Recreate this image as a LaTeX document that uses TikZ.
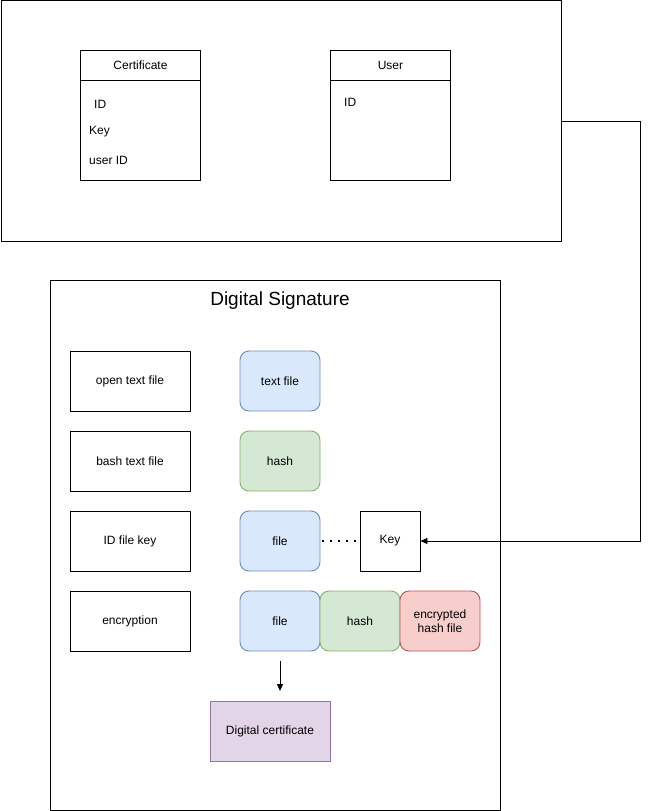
\documentclass[tikz,border=0pt]{standalone}
\usepackage{fontspec}
\setmainfont{Liberation Sans}
\usetikzlibrary{arrows.meta}
\definecolor{bluef}{HTML}{DAE8FC}\definecolor{blued}{HTML}{6C8EBF}
\definecolor{greenf}{HTML}{D5E8D4}\definecolor{greend}{HTML}{82B366}
\definecolor{redf}{HTML}{F8CECC}\definecolor{redd}{HTML}{B85450}
\definecolor{purf}{HTML}{E1D5E7}\definecolor{purd}{HTML}{9673A6}
\begin{document}
\begin{tikzpicture}[x=1pt,y=-1pt,
  every node/.style={font=\fontsize{12}{14}\selectfont, inner sep=0pt},
  plainbox/.style={draw=black, line width=0.9pt, minimum width=120pt, minimum height=60pt},
  rbox/.style={rounded corners=9pt, line width=0.9pt, minimum width=80pt, minimum height=60pt, align=center},
  bluebox/.style={rbox, draw=blued, fill=bluef},
  greenbox/.style={rbox, draw=greend, fill=greenf},
  redbox/.style={rbox, draw=redd, fill=redf},
  conn/.style={draw=black, line width=0.9pt},
  lbl/.style={anchor=west}]
\useasboundingbox (0,0) rectangle (649,811);
% top container
\node[draw, line width=0.9pt, minimum width=560pt, minimum height=240pt, anchor=north west] (top) at (0.5,0.5) {};
% Certificate table
\node[draw, line width=0.9pt, minimum width=120pt, minimum height=130pt, anchor=north west] (cert) at (80,50) {};
\node[draw, line width=0.9pt, minimum width=120pt, minimum height=30pt, anchor=north west] (certh) at (80,50) {Certificate};
\node[lbl] (c1) at (94,104) {ID};
\node[lbl] (c2) at (89,132) {Key};
\node[lbl] (c3) at (89,160) {user ID};
% User table
\node[draw, line width=0.9pt, minimum width=120pt, minimum height=130pt, anchor=north west] (user) at (330,50) {};
\node[draw, line width=0.9pt, minimum width=120pt, minimum height=30pt, anchor=north west] (userh) at (330,50) {User};
\node[lbl] (u1) at (344,102) {ID};
% Digital Signature container
\node[draw, line width=0.9pt, minimum width=450pt, minimum height=530pt, anchor=north west] (ds) at (50,280) {};
\node (dst) at (280,301) {\fontsize{19}{21}\selectfont Digital Signature};
% left boxes
\node[plainbox] (l1) at (130,381) {open text file};
\node[plainbox] (l2) at (130,461) {bash text file};
\node[plainbox] (l3) at (130,541) {ID file key};
\node[plainbox] (l4) at (130,621) {encryption};
% right boxes
\node[bluebox] (tf) at (280,381) {text file};
\node[greenbox] (h1) at (280,461) {hash};
\node[bluebox] (f1) at (280,541) {file};
\node[draw, line width=0.9pt, minimum width=60pt, minimum height=60pt] (key) at (390,541) {Key};
\node[bluebox] (f2) at (280,621) {file};
\node[greenbox] (h2) at (360,621) {hash};
\node[redbox] (ehf) at (440,621) {encrypted\\hash file};
\node[draw=purd, fill=purf, line width=0.9pt, minimum width=120pt, minimum height=60pt] (dc) at (270,731) {Digital certificate};
% connectors
\draw[line width=1.5pt, dash pattern=on 1.5pt off 6.5pt] (f1.east) ++(2,0) -- (key.west);
\coordinate (a1) at (280,661);
\coordinate (a2) at (280,691);
\coordinate (corner) at (640,541);
\draw[conn, -{Triangle[length=7pt,width=6pt]}] (a1) -- (a2);
\draw[conn, -{Triangle[length=7pt,width=6pt]}] (top.east) -| (corner) -- (key.east);
\end{tikzpicture}
\end{document}
